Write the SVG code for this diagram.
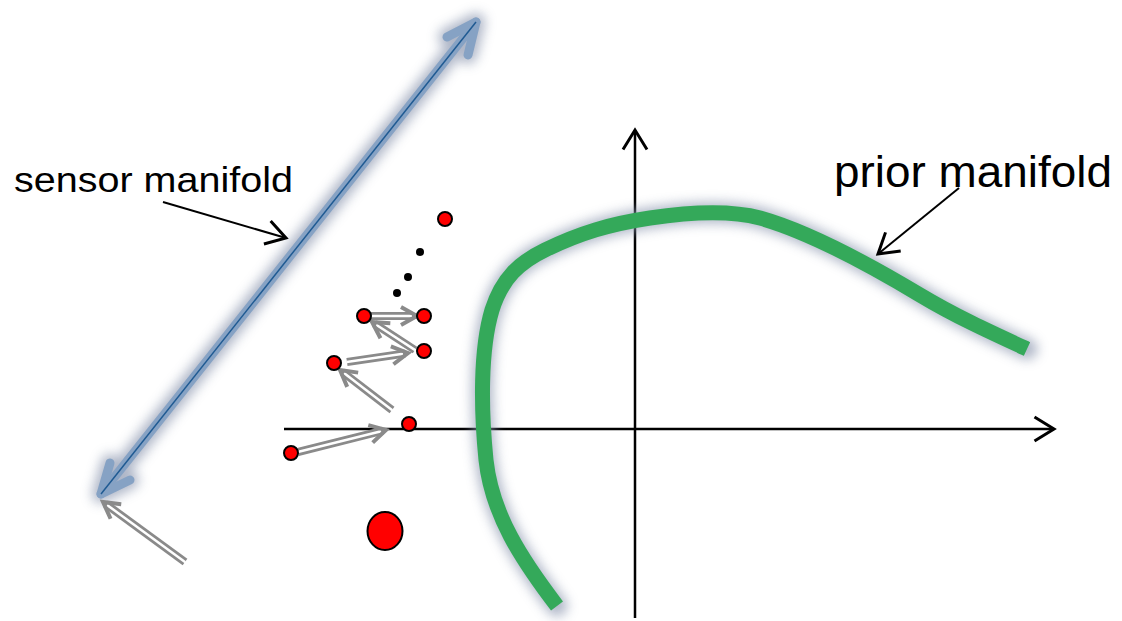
<svg xmlns="http://www.w3.org/2000/svg" width="1122" height="621" viewBox="0 0 1122 621">
  <defs>
    <filter id="glow" x="-20%" y="-20%" width="140%" height="140%">
      <feGaussianBlur stdDeviation="6"/>
    </filter>
    <marker id="open" markerUnits="userSpaceOnUse" markerWidth="30" markerHeight="30" viewBox="-16 -10 20 20" refX="0" refY="0" orient="auto">
      <path d="M-13,-8 L0,0 L-13,8" fill="none" stroke="#000" stroke-width="2"/>
    </marker>
  </defs>
  <style>
    .lbl { font-family: "Liberation Sans", Arial, sans-serif; fill: #000; }
    .ptr { stroke: #000; stroke-width: 2; fill: none; marker-end: url(#open); }
    .axis { stroke: #000; stroke-width: 2.5; fill: none; marker-end: url(#open); }
    .shadow { fill: none; stroke: #8d98b0; opacity: 0.7; stroke-linecap: round; stroke-linejoin: round; filter: url(#glow); }
    .gshaft { stroke: #8a8a8a; stroke-width: 8; }
    .wshaft { stroke: #fff; stroke-width: 2.5; }
    .ghead { fill: none; stroke: #8a8a8a; stroke-width: 4; stroke-linejoin: miter; }
    .pt { fill: #ff0000; stroke: #000; stroke-width: 2; }
    .dot { fill: #000; }
  </style>

  <g id="axes">
    <line class="axis" x1="284" y1="429" x2="1054" y2="429"/>
    <line class="axis" x1="635" y1="618" x2="635" y2="130"/>
  </g>

  <g id="sensor-manifold">
    <g class="shadow" stroke-width="18">
      <line x1="101" y1="494" x2="476" y2="22"/>
      <polyline points="447,37 476,22 468,55"/>
      <polyline points="110,463 101,494 130,480"/>
    </g>
    <g fill="none" stroke="#86a2c4" stroke-width="9" stroke-linecap="round" stroke-linejoin="round">
      <line x1="101" y1="494" x2="476" y2="22"/>
      <polyline points="447,37 476,22 468,55"/>
      <polyline points="110,463 101,494 130,480"/>
    </g>
    <line x1="101" y1="494" x2="476" y2="22" stroke="#1f5a92" stroke-width="1.5"/>
  </g>

  <g id="prior-manifold">
    <path class="shadow" stroke-width="21" d="M557,606 C522,560 492,515 486,460 C481,410 480,350 492,310 C502,278 520,262 545,250 C580,233 610,224 650,218 C690,212 730,210 760,218 C810,232 870,265 920,295 C955,316 990,332 1027,349"/>
    <path fill="none" stroke="#34a95a" stroke-width="15" d="M557,606 C522,560 492,515 486,460 C481,410 480,350 492,310 C502,278 520,262 545,250 C580,233 610,224 650,218 C690,212 730,210 760,218 C810,232 870,265 920,295 C955,316 990,332 1027,349"/>
  </g>

  <g id="label-sensor">
    <text class="lbl" x="14" y="192" font-size="35" textLength="279" lengthAdjust="spacingAndGlyphs">sensor manifold</text>
  </g>
  <g id="label-prior">
    <text class="lbl" x="834" y="187" font-size="44" textLength="278" lengthAdjust="spacingAndGlyphs">prior manifold</text>
  </g>

  <g id="connectors">
    <line class="ptr" x1="163" y1="202" x2="286" y2="238"/>
    <line class="ptr" x1="959" y1="188" x2="878" y2="254"/>
    <g transform="translate(386,430) rotate(-14.04)">
      <line class="gshaft" x1="-90.7" y1="0" x2="-3" y2="0"/>
      <line class="wshaft" x1="-91" y1="0" x2="-5" y2="0"/>
      <path class="ghead" d="M-16,-9 L0,0 L-16,9"/>
    </g>
    <g transform="translate(340,370) rotate(-142.43)">
      <line class="gshaft" x1="-65.6" y1="0" x2="-3" y2="0"/>
      <line class="wshaft" x1="-66" y1="0" x2="-5" y2="0"/>
      <path class="ghead" d="M-16,-9 L0,0 L-16,9"/>
    </g>
    <g transform="translate(408,353) rotate(-8.39)">
      <line class="gshaft" x1="-61.7" y1="0" x2="-3" y2="0"/>
      <line class="wshaft" x1="-62" y1="0" x2="-5" y2="0"/>
      <path class="ghead" d="M-16,-9 L0,0 L-16,9"/>
    </g>
    <g transform="translate(372,322) rotate(-146.93)">
      <line class="gshaft" x1="-51.3" y1="0" x2="-3" y2="0"/>
      <line class="wshaft" x1="-52" y1="0" x2="-5" y2="0"/>
      <path class="ghead" d="M-16,-9 L0,0 L-16,9"/>
    </g>
    <g transform="translate(417,316) rotate(0)">
      <line class="gshaft" x1="-47" y1="0" x2="-3" y2="0"/>
      <line class="wshaft" x1="-47.5" y1="0" x2="-5" y2="0"/>
      <path class="ghead" d="M-16,-9 L0,0 L-16,9"/>
    </g>
    <g transform="translate(103,502) rotate(-143.81)">
      <line class="gshaft" x1="-101.6" y1="0" x2="-3" y2="0"/>
      <line class="wshaft" x1="-102" y1="0" x2="-5" y2="0"/>
      <path class="ghead" d="M-16,-9 L0,0 L-16,9"/>
    </g>
  </g>

  <g id="points">
    <circle class="pt" cx="445" cy="219" r="7"/>
    <circle class="pt" cx="364" cy="316" r="7"/>
    <circle class="pt" cx="424" cy="316" r="7"/>
    <circle class="pt" cx="424" cy="351" r="7"/>
    <circle class="pt" cx="334" cy="363" r="7"/>
    <circle class="pt" cx="409" cy="424" r="7"/>
    <circle class="pt" cx="291" cy="453" r="7"/>
    <ellipse class="pt" cx="385" cy="531" rx="17.5" ry="19"/>
    <circle class="dot" cx="420" cy="252" r="4"/>
    <circle class="dot" cx="408" cy="277" r="4"/>
    <circle class="dot" cx="397" cy="293" r="4"/>
  </g>
</svg>
